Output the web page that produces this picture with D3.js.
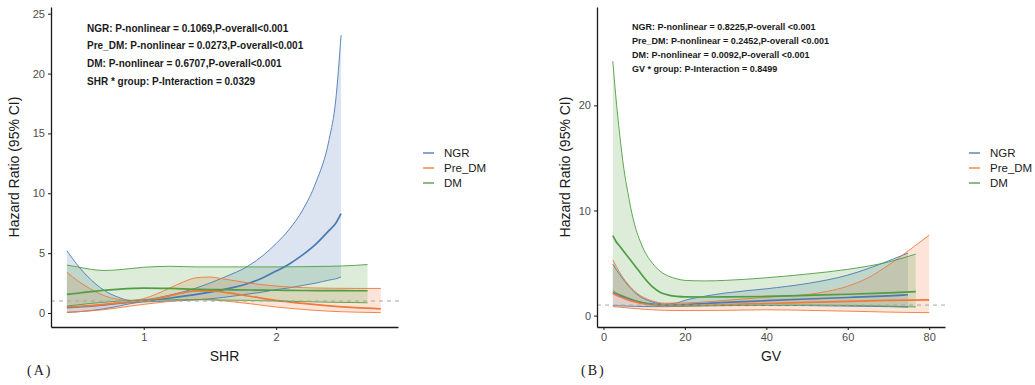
<!DOCTYPE html>
<meta charset="utf-8">
<style>
  body { margin: 0; background: #fff; }
  .axis path, .axis line { stroke: #1a1a1a; }
  .axis text { font: 11px "Liberation Sans", Arial, sans-serif; fill: #4d4d4d; }
  .ttl { font: 14px "Liberation Sans", Arial, sans-serif; fill: #1a1a1a; }
  .ann { font-family: "Liberation Sans", Arial, sans-serif; font-weight: bold; fill: #1a1a1a; }
  .leg { font: 11.5px "Liberation Sans", Arial, sans-serif; fill: #1a1a1a; }
  .tag { font: 14px "Liberation Serif", "Times New Roman", serif; fill: #1a1a1a; letter-spacing: 2px; }
</style>
<svg id="chart" width="1035" height="385"></svg>
<script src="https://cdn.jsdelivr.net/npm/d3@7"></script>
<script>

// ---- data: panel A (SHR) ----
var groups = ["NGR", "Pre_DM", "DM"];
var colors = ["#4a7ab6", "#ee7b3a", "#4f9e43"];

var shrNGR   = [0.42, 0.5, 0.6, 0.7, 0.8, 0.9, 1.0, 1.2, 1.4, 1.6, 1.8, 1.9, 2.0, 2.1, 2.2, 2.3, 2.4, 2.45, 2.49];
var shrNGRhi = [5.2, 4.0, 2.8, 1.9, 1.35, 1.05, 1.1, 1.5, 2.1, 2.95, 4.0, 4.8, 5.8, 7.0, 8.6, 10.9, 14.5, 17.8, 23.2];
var shrNGRest= [0.45, 0.5, 0.58, 0.68, 0.8, 0.9, 1.0, 1.25, 1.55, 1.95, 2.5, 2.95, 3.5, 4.1, 4.85, 5.75, 6.9, 7.5, 8.3];
var shrNGRlo = [0.05, 0.1, 0.2, 0.35, 0.55, 0.78, 0.92, 1.0, 1.1, 1.3, 1.6, 1.75, 1.95, 2.1, 2.3, 2.5, 2.75, 2.85, 3.0];

var shrPre   = [0.42, 0.5, 0.6, 0.7, 0.8, 0.9, 1.0, 1.1, 1.2, 1.3, 1.4, 1.5, 1.6, 1.8, 2.0, 2.2, 2.4, 2.6, 2.79];
var shrPrehi = [3.4, 2.7, 2.0, 1.45, 1.15, 1.05, 1.2, 1.6, 2.1, 2.6, 2.95, 3.0, 2.85, 2.5, 2.25, 2.12, 2.07, 2.05, 2.05];
var shrPreest= [0.5, 0.55, 0.62, 0.72, 0.82, 0.92, 1.0, 1.2, 1.45, 1.7, 1.85, 1.85, 1.75, 1.4, 1.05, 0.8, 0.6, 0.45, 0.35];
var shrPrelo = [0.05, 0.1, 0.18, 0.28, 0.42, 0.58, 0.72, 0.85, 0.98, 1.08, 1.15, 1.12, 1.02, 0.78, 0.5, 0.3, 0.15, 0.07, 0.03];

var shrDM    = [0.42, 0.5, 0.6, 0.7, 0.8, 1.0, 1.2, 1.4, 1.6, 1.8, 2.0, 2.2, 2.4, 2.6, 2.69];
var shrDMhi  = [4.0, 3.85, 3.65, 3.55, 3.6, 3.82, 3.9, 3.85, 3.85, 3.85, 3.85, 3.87, 3.9, 3.98, 4.05];
var shrDMest = [1.55, 1.65, 1.78, 1.9, 1.98, 2.08, 2.05, 1.98, 1.95, 1.92, 1.9, 1.88, 1.87, 1.86, 1.86];
var shrDMlo  = [0.58, 0.68, 0.8, 0.9, 0.98, 1.08, 1.1, 1.1, 1.08, 1.05, 1.0, 0.95, 0.9, 0.87, 0.85];

// ---- data: panel B (GV) ----
var gvNGR    = [2.3, 4, 6, 8, 10, 12, 15, 18, 20, 25, 30, 40, 50, 60, 70, 74.8];
var gvNGRhi  = [4.9, 3.9, 2.9, 2.1, 1.6, 1.3, 1.1, 1.2, 1.45, 1.85, 2.15, 2.55, 3.05, 3.85, 5.2, 5.95];
var gvNGRest = [2.2, 1.9, 1.6, 1.35, 1.2, 1.1, 1.0, 1.02, 1.05, 1.15, 1.25, 1.42, 1.58, 1.72, 1.88, 1.98];
var gvNGRlo  = [0.95, 0.93, 0.9, 0.88, 0.86, 0.85, 0.85, 0.87, 0.9, 0.93, 0.95, 0.96, 0.95, 0.9, 0.85, 0.8];

var gvPre    = [2.3, 4, 6, 8, 10, 12, 15, 20, 30, 40, 50, 55, 60, 65, 70, 75, 80];
var gvPrehi  = [5.3, 4.1, 3.0, 2.2, 1.7, 1.4, 1.18, 1.2, 1.45, 1.75, 2.0, 2.3, 2.8, 3.6, 4.8, 6.2, 7.65];
var gvPreest = [2.1, 1.8, 1.5, 1.28, 1.12, 1.02, 0.95, 0.95, 1.05, 1.15, 1.25, 1.3, 1.35, 1.4, 1.45, 1.48, 1.5];
var gvPrelo  = [0.85, 0.8, 0.73, 0.66, 0.6, 0.55, 0.5, 0.48, 0.5, 0.55, 0.5, 0.46, 0.42, 0.38, 0.33, 0.3, 0.28];

var gvDM     = [2.3, 3, 4, 5, 6, 7, 8, 9, 10, 12, 14, 16, 18, 20, 25, 30, 40, 50, 60, 70, 76.7];
var gvDMhi   = [24.2, 21.0, 17.2, 14.0, 11.7, 9.7, 8.2, 7.1, 6.2, 5.0, 4.2, 3.75, 3.5, 3.35, 3.3, 3.35, 3.6, 3.95, 4.4, 5.1, 5.85];
var gvDMest  = [7.6, 7.1, 6.6, 6.1, 5.6, 5.1, 4.6, 4.1, 3.6, 2.75, 2.2, 1.95, 1.83, 1.78, 1.77, 1.78, 1.82, 1.92, 2.03, 2.17, 2.28];
var gvDMlo   = [2.4, 2.2, 2.0, 1.85, 1.7, 1.55, 1.42, 1.3, 1.2, 1.05, 0.98, 0.95, 0.93, 0.93, 0.94, 0.95, 0.98, 1.0, 0.97, 0.9, 0.82];

var annA = ["NGR: P-nonlinear = 0.1069,P-overall<0.001",
            "Pre_DM: P-nonlinear = 0.0273,P-overall<0.001",
            "DM: P-nonlinear = 0.6707,P-overall<0.001",
            "SHR * group: P-Interaction = 0.0329"];
var annB = ["NGR: P-nonlinear = 0.8225,P-overall <0.001",
            "Pre_DM: P-nonlinear = 0.2452,P-overall <0.001",
            "DM: P-nonlinear = 0.0092,P-overall <0.001",
            "GV * group: P-Interaction = 0.8499"];

function zip(xs, lo, est, hi) {
    return xs.map(function(x, i) { return {x: x, lo: lo[i], est: est[i], hi: hi[i]}; });
}

var svg = d3.select("#chart");

function panel(cfg) {
    var x = d3.scaleLinear().domain(cfg.xDomain).range([cfg.left, cfg.right]);
    var y = d3.scaleLinear().domain(cfg.yDomain).range([cfg.bottom, cfg.top]);
    var g = svg.append("g");

    var area = d3.area().curve(d3.curveMonotoneX)
        .x(function(d) { return x(d.x); })
        .y0(function(d) { return y(d.lo); })
        .y1(function(d) { return y(d.hi); });
    var line = function(key) {
        return d3.line().curve(d3.curveMonotoneX)
            .x(function(d) { return x(d.x); })
            .y(function(d) { return y(d[key]); });
    };

    // ribbons
    cfg.series.forEach(function(s, i) {
        g.append("path").datum(s).attr("d", area)
            .attr("fill", colors[i]).attr("fill-opacity", 0.2);
    });
    // lines
    cfg.series.forEach(function(s, i) {
        ["lo", "hi"].forEach(function(k) {
            g.append("path").datum(s).attr("d", line(k))
                .attr("fill", "none").attr("stroke", colors[i]).attr("stroke-width", 0.9);
        });
        g.append("path").datum(s).attr("d", line("est"))
            .attr("fill", "none").attr("stroke", colors[i]).attr("stroke-width", 1.7);
    });

    // reference line HR = 1
    g.append("line")
        .attr("x1", cfg.left).attr("x2", cfg.right + 4)
        .attr("y1", y(1)).attr("y2", y(1))
        .attr("stroke", "#a6a6a6").attr("stroke-width", 1)
        .attr("stroke-dasharray", "4,4");

    // axes
    g.append("g").attr("class", "axis")
        .attr("transform", "translate(0," + cfg.bottom + ")")
        .call(d3.axisBottom(x).tickValues(cfg.xTicks).tickFormat(d3.format("d"))
              .tickSize(3).tickSizeOuter(0).tickPadding(3))
        .call(function(a) { a.select(".domain").attr("stroke-width", 1.3); });
    g.append("g").attr("class", "axis")
        .attr("transform", "translate(" + cfg.left + ",0)")
        .call(d3.axisLeft(y).tickValues(cfg.yTicks).tickFormat(d3.format("d"))
              .tickSize(3).tickSizeOuter(0).tickPadding(3))
        .call(function(a) { a.select(".domain").attr("stroke-width", 1.3); });

    // titles
    g.append("text").attr("class", "ttl")
        .attr("x", (cfg.left + cfg.right) / 2).attr("y", 361)
        .attr("text-anchor", "middle").text(cfg.xTitle);
    g.append("text").attr("class", "ttl")
        .attr("transform", "translate(" + cfg.yTitleX + ",167) rotate(-90)")
        .attr("text-anchor", "middle").text("Hazard Ratio (95% CI)");
    g.append("text").attr("class", "tag")
        .attr("x", cfg.tagX).attr("y", 375).text(cfg.tag);

    // annotations
    cfg.ann.forEach(function(t, i) {
        g.append("text").attr("class", "ann")
            .attr("font-size", cfg.annSize)
            .attr("x", cfg.annX).attr("y", cfg.annY + i * cfg.annStep)
            .text(t);
    });

    // legend
    groups.forEach(function(name, i) {
        var ly = 153 + i * 15;
        g.append("line")
            .attr("x1", cfg.legX).attr("x2", cfg.legX + 11)
            .attr("y1", ly).attr("y2", ly)
            .attr("stroke", colors[i]).attr("stroke-opacity", 0.85).attr("stroke-width", 1.6);
        g.append("text").attr("class", "leg")
            .attr("x", cfg.legX + 21).attr("y", ly + 4).text(name);
    });
}

panel({
    left: 51, right: 398, top: 7, bottom: 327,
    xDomain: [0.3, 2.92], yDomain: [-1.17, 25.56],
    xTicks: [1, 2], yTicks: [0, 5, 10, 15, 20, 25],
    series: [zip(shrNGR, shrNGRlo, shrNGRest, shrNGRhi),
             zip(shrPre, shrPrelo, shrPreest, shrPrehi),
             zip(shrDM, shrDMlo, shrDMest, shrDMhi)],
    xTitle: "SHR", yTitleX: 19, tag: "(A)", tagX: 27,
    ann: annA, annX: 87, annY: 31.5, annStep: 17.8, annSize: 10,
    legX: 423
});

panel({
    left: 597, right: 945, top: 7, bottom: 327,
    xDomain: [-1.585, 83.885], yDomain: [-1.086, 29.36],
    xTicks: [0, 20, 40, 60, 80], yTicks: [0, 10, 20],
    series: [zip(gvNGR, gvNGRlo, gvNGRest, gvNGRhi),
             zip(gvPre, gvPrelo, gvPreest, gvPrehi),
             zip(gvDM, gvDMlo, gvDMest, gvDMhi)],
    xTitle: "GV", yTitleX: 570, tag: "(B)", tagX: 581,
    ann: annB, annX: 632, annY: 29.5, annStep: 14.3, annSize: 9,
    legX: 969
});

</script>
